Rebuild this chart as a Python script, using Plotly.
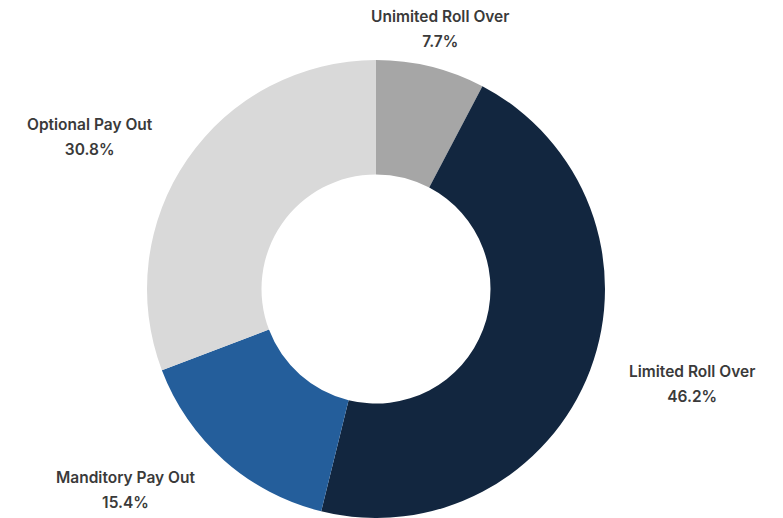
import math
import plotly.graph_objects as go

labels = ["Unimited Roll Over", "Limited Roll Over", "Manditory Pay Out", "Optional Pay Out"]
values = [1, 6, 2, 4]
colors = ["#a6a6a6", "#12263f", "#245e9b", "#d9d9d9"]

W, H = 783, 518
cx, cy, R = 376, 289, 229  # pie centre / radius in pixels

fig = go.Figure(go.Pie(
    labels=labels, values=values, sort=False, direction="clockwise", rotation=0,
    hole=0.5, marker=dict(colors=colors, line=dict(width=0)),
    textinfo="none", hoverinfo="label+percent", showlegend=False,
    domain=dict(x=[(cx - R) / W, (cx + R) / W], y=[(H - cy - R) / H, (H - cy + R) / H]),
))

total = sum(values)
cum = 0
label_r = 1.17 * R
for lab, v in zip(labels, values):
    mid = (cum + v / 2) / total * 2 * math.pi
    cum += v
    s, c = math.sin(mid), math.cos(mid)
    px = cx + label_r * s
    py = cy - label_r * c
    xa = "left" if s > 0.3 else ("right" if s < -0.3 else "center")
    span = '<span style="font-size:15.5px">{}</span>'
    fig.add_annotation(
        x=px / W, y=(H - py) / H, xref="paper", yref="paper",
        text=span.format(lab) + "<br>" + span.format(f"{v / total * 100:.1f}%"),
        showarrow=False, xanchor=xa, yanchor="middle", align="center",
        font=dict(family="Inter", size=19, color="#3a3a3a", weight=600),
    )

fig.update_layout(
    width=W, height=H, margin=dict(l=0, r=0, t=0, b=0),
    paper_bgcolor="white", plot_bgcolor="white",
)
fig.write_html("out.html")
